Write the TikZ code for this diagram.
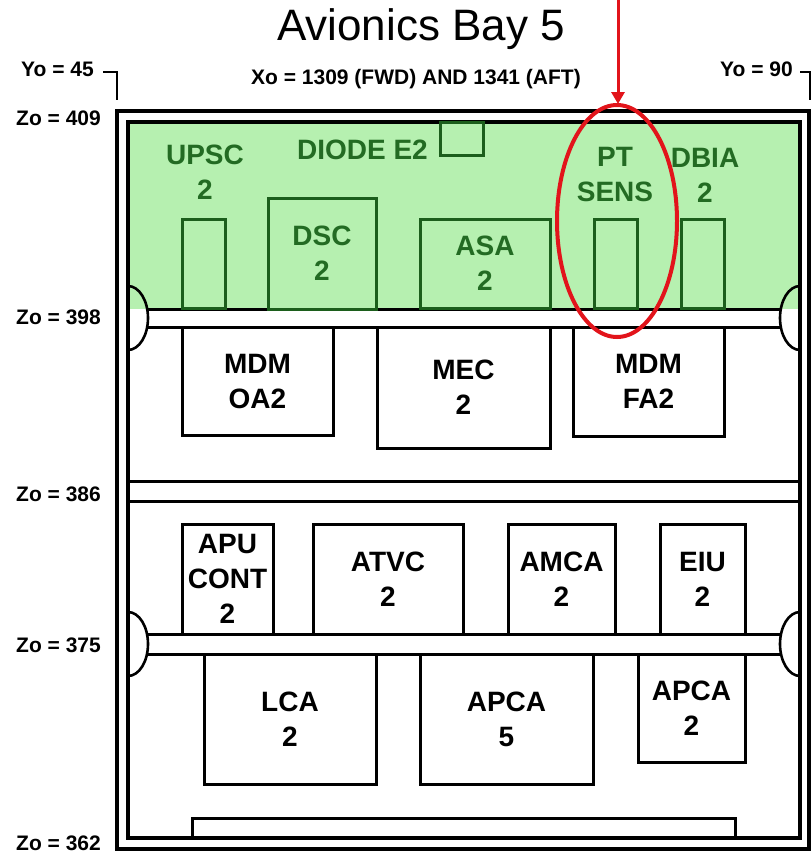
\documentclass[tikz,border=0pt]{standalone}
\usepackage{fontspec}
\setmainfont{Liberation Sans}
\usetikzlibrary{arrows.meta}
\definecolor{bayGreen}{HTML}{B6F0B0}
\definecolor{darkGreen}{HTML}{1C5E1C}
\definecolor{textGreen}{HTML}{236B23}
\definecolor{alertRed}{HTML}{E2141B}
\newcommand\unitfont{\bfseries\fontsize{28}{35}\selectfont}
\newcommand\dimfont{\bfseries\fontsize{21}{25}\selectfont}
\tikzset{
  frameline/.style={line width=3.4pt, draw=black},
  barline/.style={line width=3pt, draw=black},
  unit/.style={draw=black, line width=3pt, fill=white, inner sep=0pt, align=center, font=\unitfont},
  gunit/.style={draw=darkGreen, line width=3pt, fill=bayGreen, text=textGreen, inner sep=0pt, align=center, font=\unitfont},
  glabel/.style={text=textGreen, align=center, font=\unitfont, inner sep=0pt},
  zlabel/.style={anchor=east, font=\dimfont, inner sep=0pt},
  bracket/.style={line width=2pt, draw=black},
  halfround/.style={line width=2.6pt, draw=black},
}
\begin{document}
\begin{tikzpicture}[x=1pt,y=-1pt]
\useasboundingbox (0,0) rectangle (811,855);
% title
\node[font=\fontsize{44}{50}\selectfont, inner sep=0pt] (title) at (421,29) {Avionics Bay 5};
\node[font=\dimfont, inner sep=0pt] (xo) at (416,79) {Xo = 1309 (FWD) AND 1341 (AFT)};
% Yo labels
\node[font=\dimfont, inner sep=0pt, anchor=east] (yo45) at (94,69) {Yo = 45};
\node[font=\dimfont, inner sep=0pt, anchor=east] (yo90) at (793,69) {Yo = 90};
\coordinate (b1a) at (103,72); \coordinate (b1b) at (117,72); \coordinate (b1c) at (117,100);
\coordinate (b2a) at (800,72); \coordinate (b2b) at (810,72); \coordinate (b2c) at (810,100);
\draw[bracket] (b1a) -- (b1b) -- (b1c);
\draw[bracket] (b2a) -- (b2b) -- (b2c);
% Zo labels
\node[zlabel] (z409) at (101,118) {Zo = 409};
\node[zlabel] (z398) at (101,317) {Zo = 398};
\node[zlabel] (z386) at (101,494) {Zo = 386};
\node[zlabel] (z375) at (101,645) {Zo = 375};
\node[zlabel] (z362) at (101,843) {Zo = 362};
% green zone
\fill[bayGreen] (128,122) rectangle (800,309);
% frames
\draw[frameline] (117,111) rectangle (809,849);
\draw[frameline] (128,122) rectangle (800,838);
% bar Zo=398
\fill[white] (146,309) rectangle (782,327);
\draw[barline] (146,309) -- (782,309);
\draw[barline] (146,327) -- (782,327);
\draw[halfround] (128,286) arc[start angle=-90, end angle=90, x radius=20, y radius=32];
\draw[halfround] (800,286) arc[start angle=-90, end angle=-270, x radius=20, y radius=32];
% bar Zo=386
\draw[barline] (128,481) -- (800,481);
\draw[barline] (128,501) -- (800,501);
% bar Zo=375
\fill[white] (146,634) rectangle (782,654);
\draw[barline] (146,634) -- (782,634);
\draw[barline] (146,654) -- (782,654);
\draw[halfround] (128,612) arc[start angle=-90, end angle=90, x radius=20, y radius=32];
\draw[halfround] (800,612) arc[start angle=-90, end angle=-270, x radius=20, y radius=32];
% bottom bar Zo=362
\draw[barline] (192,838) -- (192,818) -- (735,818) -- (735,838);
% green units
\node[gunit, minimum width=43pt, minimum height=89pt] (upsc) at (203.5,263.5) {};
\node[glabel] (upscl) at (205,172) {UPSC\\2};
\node[gunit, minimum width=108pt, minimum height=111pt] (dsc) at (322,253.5) {DSC\\2};
\node[glabel, anchor=east] (diodel) at (428,150) {DIODE E2};
\node[gunit, minimum width=43pt, minimum height=33pt] (diode) at (461.5,138.5) {};
\node[gunit, minimum width=130pt, minimum height=89pt] (asa) at (485,263.5) {ASA\\2};
\node[gunit, minimum width=43pt, minimum height=89pt] (ptsens) at (615.5,263.5) {};
\node[glabel] (ptsensl) at (615,174) {PT\\SENS};
\node[gunit, minimum width=43pt, minimum height=89pt] (dbia) at (702.5,263.5) {};
\node[glabel] (dbial) at (705,175) {DBIA\\2};
% middle units
\node[unit, minimum width=151pt, minimum height=108pt] (mdmoa) at (257.5,381) {MDM\\OA2};
\node[unit, minimum width=173pt, minimum height=121pt] (mec) at (463.5,387.5) {MEC\\2};
\node[unit, minimum width=151pt, minimum height=109pt] (mdmfa) at (648.5,381.5) {MDM\\FA2};
% lower units
\node[unit, minimum width=91pt, minimum height=110pt] (apu) at (227.5,579) {APU\\CONT\\2};
\node[unit, minimum width=150pt, minimum height=110pt] (atvc) at (388,579) {ATVC\\2};
\node[unit, minimum width=107pt, minimum height=110pt] (amca) at (561.5,579) {AMCA\\2};
\node[unit, minimum width=85pt, minimum height=110pt] (eiu) at (702.5,579) {EIU\\2};
\node[unit, minimum width=172pt, minimum height=130pt] (lca) at (290,719) {LCA\\2};
\node[unit, minimum width=173pt, minimum height=130pt] (apca5) at (506.5,719) {APCA\\5};
\node[unit, minimum width=107pt, minimum height=108pt] (apca2) at (691.5,708) {APCA\\2};
% highlight
\draw[alertRed, line width=4pt] (617,221) ellipse[x radius=60, y radius=116];
\coordinate (arrowtop) at (618,0);
\coordinate (arrowtip) at (618,104);
\draw[alertRed, line width=3pt, -{Triangle[width=13pt,length=12pt]}] (arrowtop) -- (arrowtip);
\end{tikzpicture}
\end{document}
